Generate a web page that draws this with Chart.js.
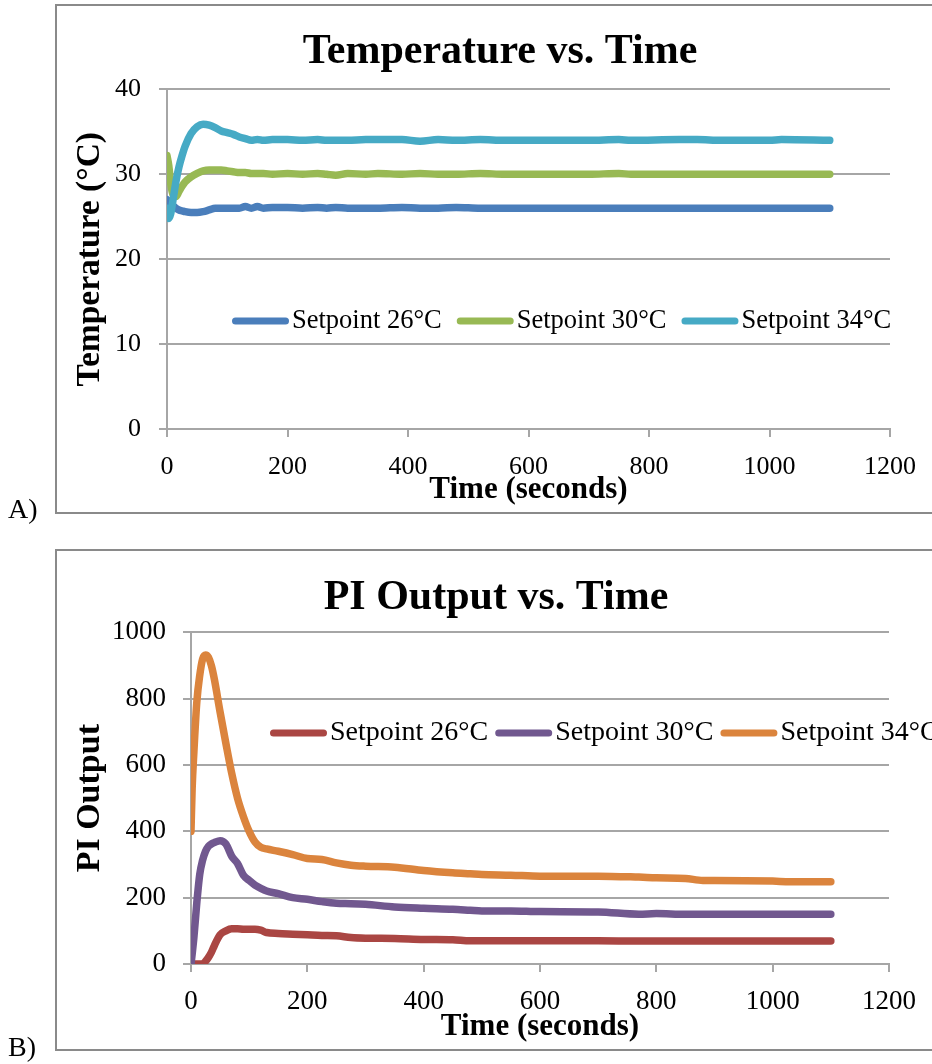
<!DOCTYPE html>
<html>
<head>
<meta charset="utf-8">
<script src="https://cdn.jsdelivr.net/npm/chart.js@4.4.0/dist/chart.umd.min.js"></script>
<style>
  body { margin: 0; width: 932px; height: 1064px; overflow: hidden; background: #fff; position: relative; font-family: "Liberation Serif", serif; }
  .box { position: absolute; left: 55px; width: 920px; border: 2px solid #8a8a8a; }
  .wrap { position: absolute; left: 0; width: 932px; height: 515px; }
  .tag { position: absolute; left: 8px; font-size: 28px; line-height: 28px; color: #000; }
</style>
</head>
<body>
<div class="box" style="top:4px; height:506px;"></div>
<div class="box" style="top:549px; height:498px;"></div>
<div class="wrap" style="top:0px;"><canvas id="tempChart" width="932" height="515"></canvas></div>
<div class="wrap" style="top:545px;"><canvas id="piChart" width="932" height="515"></canvas></div>
<div class="tag" style="top:495px;">A)</div>
<div class="tag" style="top:1033px;">B)</div>
<script>
// Temperature vs. Time (seconds)
const tempTime = [0, 3, 6, 10, 15, 20, 25, 30, 40, 50, 60, 70, 80, 90, 100, 110, 120, 130, 140, 150, 160,
    175, 200, 225, 250, 265, 280, 300, 330, 350, 390, 420, 450, 480, 520, 560, 600, 700, 750, 770,
    850, 880, 920, 1000, 1020, 1100];
const temp26 = [27.0, 26.8, 26.6, 26.3, 26.0, 25.8, 25.7, 25.6, 25.5, 25.5, 25.6, 25.8, 26.0, 26.0, 26.0, 26.0, 26.0, 26.2, 26.0, 26.2, 26.0,
    26.1, 26.1, 26.0, 26.1, 26.0, 26.1, 26.0, 26.0, 26.0, 26.1, 26.0, 26.0, 26.1, 26.0, 26.0, 26.0, 26.0, 26.0, 26.0,
    26.0, 26.0, 26.0, 26.0, 26.0, 26.0];
const temp30 = [32.2, 31.0, 29.0, 27.6, 27.4, 28.0, 28.6, 29.1, 29.7, 30.1, 30.4, 30.5, 30.5, 30.5, 30.4, 30.3, 30.2, 30.2, 30.1, 30.1, 30.1,
    30.0, 30.1, 30.0, 30.1, 30.0, 29.9, 30.1, 30.0, 30.1, 30.0, 30.1, 30.0, 30.0, 30.1, 30.0, 30.0, 30.0, 30.1, 30.0,
    30.0, 30.0, 30.0, 30.0, 30.0, 30.0];
const temp34 = [26.0, 24.8, 25.3, 27.0, 29.2, 30.9, 32.2, 33.3, 34.8, 35.6, 35.9, 35.8, 35.5, 35.1, 34.9, 34.7, 34.4, 34.2, 34.0, 34.1, 34.0,
    34.1, 34.1, 34.0, 34.1, 34.0, 34.0, 34.0, 34.1, 34.1, 34.1, 33.9, 34.1, 34.0, 34.1, 34.0, 34.0, 34.0, 34.1, 34.0,
    34.1, 34.1, 34.0, 34.0, 34.1, 34.0];

// PI Output vs. Time (seconds)
const piTime = [0, 2, 5, 10, 15, 20, 25, 30, 35, 40, 50, 60, 70, 80, 90, 100, 110, 120, 130, 150, 175,
    200, 225, 250, 275, 300, 350, 400, 450, 480, 500, 550, 600, 700, 770, 800, 850, 880, 900, 1000, 1030, 1100];
const pi26 = [0, 0, 0, 0, 0, 0, 8, 20, 35, 55, 88, 100, 106, 106, 105, 105, 105, 102, 95, 92, 90,
    88, 86, 85, 80, 78, 77, 74, 73, 70, 70, 70, 70, 70, 69, 69, 69, 69, 69, 69, 69, 69];
const pi30 = [0, 30, 80, 185, 270, 313, 340, 355, 362, 366, 372, 362, 325, 303, 268, 252, 238, 228, 220, 212, 200,
    195, 188, 183, 182, 180, 172, 168, 165, 162, 160, 160, 158, 157, 150, 152, 150, 150, 150, 150, 150, 150];
const pi34 = [400, 530, 640, 790, 870, 920, 932, 925, 900, 860, 760, 665, 575, 500, 445, 400, 368, 352, 347, 340, 330,
    318, 315, 305, 298, 295, 292, 282, 275, 272, 270, 268, 265, 265, 262, 260, 258, 252, 252, 250, 248, 248];

const seriesLabels = ['Setpoint 26°C', 'Setpoint 30°C', 'Setpoint 34°C'];
const tempColors = ['#4A7EBB', '#98B954', '#46AAC5'];
const piColors = ['#AA4643', '#71588F', '#DB843D'];

const serif = '"Liberation Serif", "Times New Roman", serif';

function toPoints(xs, ys) {
    return xs.map((x, i) => ({ x: x, y: ys[i] }));
}

// legend drawn inside the plot, Excel style
const inlineLegend = {
    id: 'inlineLegend',
    afterDatasetsDraw(chart, args, opts) {
        const ctx = chart.ctx;
        ctx.save();
        ctx.font = opts.font;
        ctx.textBaseline = 'middle';
        ctx.textAlign = 'left';
        let x = opts.x;
        chart.data.datasets.forEach(ds => {
            ctx.strokeStyle = ds.borderColor;
            ctx.lineWidth = 7;
            ctx.lineCap = 'round';
            ctx.beginPath();
            ctx.moveTo(x + 3.5, opts.y);
            ctx.lineTo(x + opts.lineLen - 3.5, opts.y);
            ctx.stroke();
            x += opts.lineLen + 3;
            ctx.fillStyle = '#000';
            ctx.fillText(ds.label, x, opts.y);
            x += ctx.measureText(ds.label).width + opts.gap;
        });
        ctx.restore();
    }
};

function makeChart(id, cfg) {
    const datasets = cfg.series.map((ys, i) => ({
        label: seriesLabels[i],
        data: toPoints(cfg.time, ys),
        borderColor: cfg.colors[i],
        backgroundColor: cfg.colors[i],
        borderWidth: 7.5,
        pointRadius: 0,
        cubicInterpolationMode: 'monotone',
        borderCapStyle: 'round',
        borderJoinStyle: 'round',
        fill: false,
        order: 3 - i
    }));

    // padding.left shifts the centre of the full-width title to where the reference has it
    return new Chart(document.getElementById(id).getContext('2d'), {
        type: 'line',
        data: { datasets: datasets },
        plugins: [inlineLegend],
        options: {
            responsive: false,
            animation: false,
            layout: { padding: { left: cfg.padLeft, right: 932 - cfg.right, top: 0, bottom: 0 } },
            plugins: {
                legend: { display: false },
                tooltip: { enabled: false },
                title: {
                    display: true,
                    text: cfg.title,
                    color: '#000',
                    font: { family: serif, size: 42, weight: 'bold', lineHeight: 1.2 },
                    padding: { top: cfg.titlePad[0], bottom: cfg.titlePad[1] }
                },
                inlineLegend: cfg.legend
            },
            scales: {
                x: {
                    type: 'linear',
                    min: 0,
                    max: 1200,
                    afterFit: (scale) => { scale.height = cfg.xHeight; },
                    ticks: { stepSize: 200, color: '#000', padding: cfg.xTickPad, maxRotation: 0,
                        callback: (v) => String(v),
                        font: { family: serif, size: cfg.tickSize } },
                    grid: { drawOnChartArea: false, drawTicks: true, tickLength: 8, color: '#a6a6a6', lineWidth: 2 },
                    border: { display: true, color: '#a6a6a6', width: 2 },
                    title: {
                        display: true,
                        text: 'Time (seconds)',
                        color: '#000',
                        font: { family: serif, size: 31, weight: 'bold', lineHeight: 1.2 },
                        padding: { top: 0, bottom: cfg.xTitlePad }
                    }
                },
                y: {
                    min: 0,
                    max: cfg.yMax,
                    afterFit: (scale) => { scale.width = cfg.left - cfg.padLeft; },
                    ticks: { stepSize: cfg.yStep, color: '#000', padding: cfg.yTickPad,
                        callback: (v) => String(v),
                        font: { family: serif, size: cfg.tickSize } },
                    grid: { drawTicks: true, tickLength: 8, color: '#a6a6a6', lineWidth: 2 },
                    border: { display: true, color: '#a6a6a6', width: 2 },
                    title: {
                        display: true,
                        text: cfg.yTitle,
                        color: '#000',
                        font: { family: serif, size: cfg.yTitleSize, weight: 'bold', lineHeight: 1.2 },
                        padding: { top: 90 - cfg.padLeft - cfg.yTitleSize * 0.6, bottom: 0 }
                    }
                }
            }
        }
    });
}

makeChart('tempChart', {
    title: 'Temperature vs. Time',
    yTitle: 'Temperature (°C)',
    yTitleSize: 33.5,
    time: tempTime,
    series: [temp26, temp30, temp34],
    colors: tempColors,
    yMax: 40,
    yStep: 10,
    padLeft: 110,
    left: 167,
    right: 890,
    xHeight: 86,
    titlePad: [27, 12],
    tickSize: 26,
    xTickPad: 15,
    yTickPad: 18,
    xTitlePad: 6,
    legend: { x: 232, y: 321, lineLen: 57, gap: 15, font: '26.5px ' + serif }
});

makeChart('piChart', {
    title: 'PI Output vs. Time',
    yTitle: 'PI Output',
    yTitleSize: 34,
    time: piTime,
    series: [pi26, pi30, pi34],
    colors: piColors,
    yMax: 1000,
    yStep: 200,
    padLeft: 103,
    left: 191,
    right: 889,
    xHeight: 96,
    titlePad: [28, 9],
    tickSize: 27,
    xTickPad: 14,
    yTickPad: 17,
    xTitlePad: 14,
    legend: { x: 270, y: 188, lineLen: 57, gap: 7, font: '28px ' + serif }
});
</script>
</body>
</html>
